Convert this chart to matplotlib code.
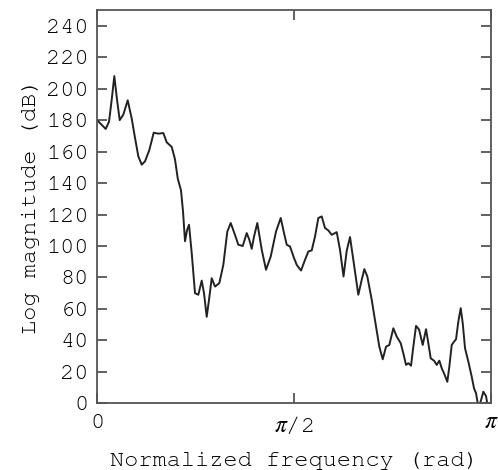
import numpy as np
import matplotlib
matplotlib.use("Agg")
import matplotlib.pyplot as plt

plt.rcParams['font.family'] = ['Nimbus Mono PS', 'Courier New', 'FreeMono', 'Liberation Mono', 'DejaVu Sans Mono']
plt.rcParams['mathtext.fontset'] = 'stix'

# frequency (rad) and magnitude (dB)
freq = [0.0, 0.0375, 0.0694, 0.0957, 0.1172, 0.1379, 0.1595, 0.1810, 0.2097, 0.2448,
        0.2767, 0.3030, 0.3293, 0.3564, 0.3827, 0.4170, 0.4521, 0.4888, 0.5287, 0.5558,
        0.5956, 0.6219, 0.6435, 0.6698, 0.6857, 0.7017, 0.7176, 0.7336, 0.7551, 0.7814,
        0.8077, 0.8348, 0.8532, 0.8747, 0.8930, 0.9146, 0.9409, 0.9752, 1.0071, 1.0390,
        1.0661, 1.1004, 1.1267, 1.1618, 1.1936, 1.2144, 1.2335, 1.2519, 1.2782, 1.3133,
        1.3475, 1.3850, 1.4273, 1.4648, 1.4911, 1.5126, 1.5389, 1.5708, 1.5924, 1.6266,
        1.6585, 1.6848, 1.7119, 1.7382, 1.7646, 1.7917, 1.8180, 1.8443, 1.8714, 1.9113,
        1.9376, 1.9655, 1.9910, 2.0173, 2.0436, 2.0835, 2.1106, 2.1314, 2.1553, 2.1903,
        2.2246, 2.2509, 2.2781, 2.3044, 2.3307, 2.3626, 2.3897, 2.4216, 2.4423, 2.4638,
        2.4822, 2.5037, 2.5221, 2.5436, 2.5675, 2.5970, 2.6233, 2.6417, 2.6608, 2.6871,
        2.7086, 2.7294, 2.7485, 2.7724, 2.7932, 2.8091, 2.8282, 2.8466, 2.8625, 2.8809,
        2.9000, 2.9160, 2.9343, 2.9607, 2.9877, 3.0060, 3.0220, 3.0419, 3.0619, 3.0802,
        3.1017, 3.1177, 3.1416]
mag = [180, 177, 174.4, 179, 193, 208, 193, 180, 183.5, 192.6,
       181, 168.7, 157, 151.7, 153.8, 161, 172, 171.4, 171.8, 165.9,
       163, 155, 143, 135.3, 122, 103, 110, 113.5, 95.5, 70,
       69, 78, 70, 55, 65.8, 79.5, 74.2, 76.4, 88, 109.2,
       114.6, 107, 100.8, 100, 108.2, 104, 98.2, 106, 114.6, 97.6,
       84.9, 93.3, 109.2, 117.8, 108.2, 100.8, 99.7, 92.3, 88, 84.4,
       91.2, 96.5, 97.2, 106, 117.8, 118.8, 111.4, 109.9, 107.1, 108.8,
       97.5, 80.6, 97, 105.7, 91.2, 69, 78.5, 85.3, 80.6, 65.8,
       48.8, 36, 28, 36, 37.1, 47.7, 42.4, 38.2, 31.8, 24.4,
       25.5, 23.9, 36, 49.2, 47, 37.1, 47.1, 38.2, 28.6, 27.1,
       24.4, 27.1, 22.3, 18, 13.7, 23.3, 37.1, 39.2, 40.7, 51.9,
       60.5, 50.9, 35, 26.5, 16.9, 9.5, 6.4, -3, 2, 7.4,
       4.6, -3, -6]

yticks = list(range(0, 241, 20))
xticks = [0, np.pi / 2, np.pi]
xticklabels = ['0', r'$\pi$/2', r'$\pi$']

fig = plt.figure(figsize=(4.98, 4.70), dpi=100)
ax = fig.add_axes([0.1948, 0.1419, 0.7912, 0.8368])

ax.plot(freq, mag, color='#222222', linewidth=1.4)

ax.set_xlim(0, np.pi)
ax.set_ylim(0, 250)
ax.set_xticks(xticks)
ax.set_xticklabels(xticklabels)
ax.set_yticks(yticks)

for s in ax.spines.values():
    s.set_color('#555555')
    s.set_linewidth(1.3)

ax.tick_params(axis='both', direction='in', length=7, width=1.3, color='#555555',
               labelsize=17, top=True, right=True)
ax.tick_params(axis='y', pad=6)
ax.tick_params(axis='x', pad=8)

ax.set_xlabel('Normalized frequency (rad)', fontsize=17, labelpad=11)
ax.set_ylabel('Log magnitude (dB)', fontsize=17, labelpad=4)

fig.savefig('out.png', dpi=100)
